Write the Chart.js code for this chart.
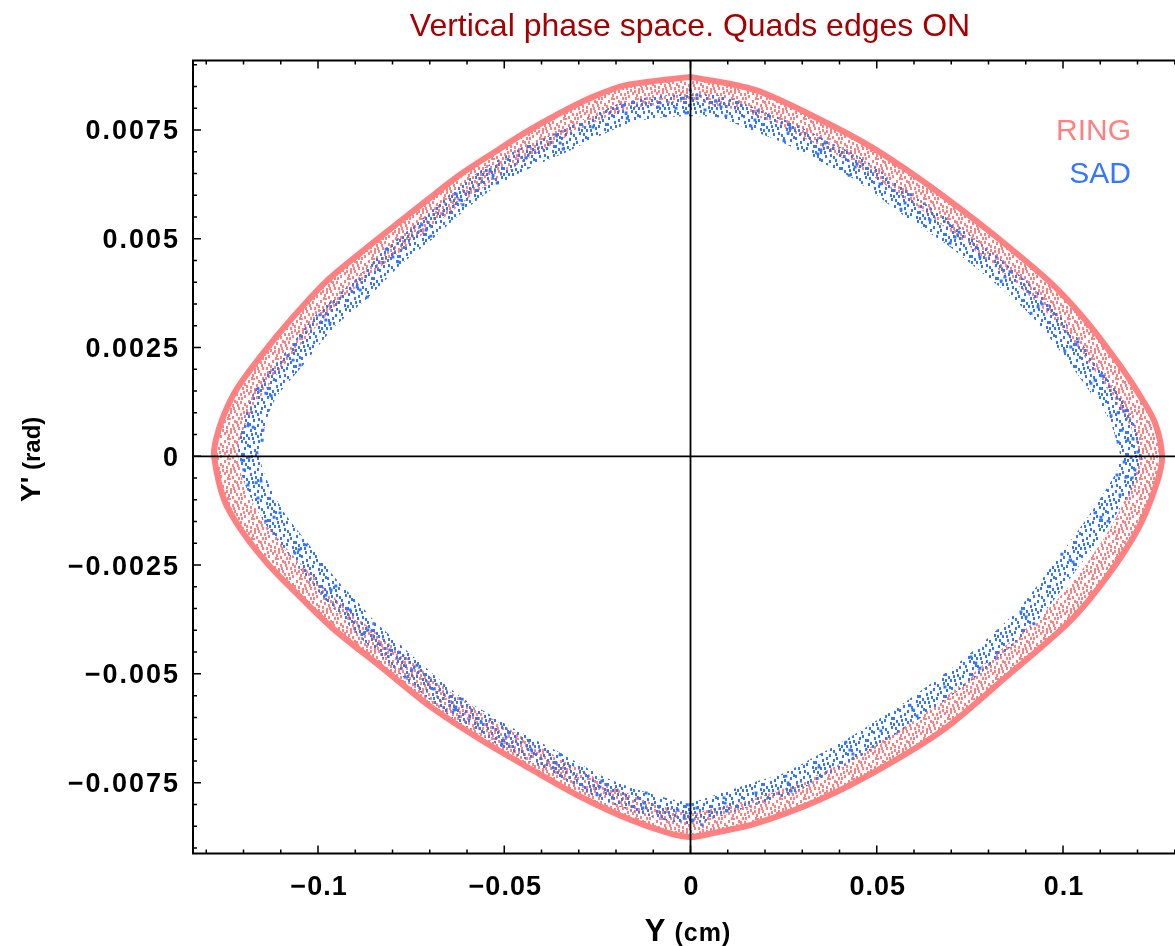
<!DOCTYPE html>
<html><head><meta charset="utf-8">
<script src="https://cdn.jsdelivr.net/npm/chart.js@4.4.1/dist/chart.umd.min.js"></script>
<style>
html,body{margin:0;padding:0;background:#fff;overflow:hidden;width:1175px;height:946px;}
#wrap{position:relative;width:1196px;height:946px;}
canvas{display:block;}
</style></head><body>
<div id="wrap"><canvas id="c" width="1196" height="946"></canvas></div>
<script>
// ---------- DATA ----------
const titleText = "Vertical phase space. Quads edges ON";
const seriesNames = ["RING", "SAD"];

// RING: outer (dense) edge of the distribution
const ringOuterX = [0.0000, 0.0173, 0.0350, 0.0485, 0.0619, 0.0753, 0.0887, 0.0979, 0.1067, 0.1156, 0.1209, 0.1247, 0.1266, 0.1252, 0.1204, 0.1118, 0.1019, 0.0850, 0.0681, 0.0514, 0.0345, 0.0179, 0.0060, 0.0000, -0.0058, -0.0160, -0.0294, -0.0428, -0.0562, -0.0697, -0.0831, -0.0965, -0.1067, -0.1134, -0.1201, -0.1252, -0.1279, -0.1274, -0.1255, -0.1220, -0.1156, -0.1067, -0.0979, -0.0887, -0.0799, -0.0710, -0.0619, -0.0530, -0.0442, -0.0350, -0.0262, -0.0173];
const ringOuterY = [0.00872, 0.00842, 0.00773, 0.00711, 0.00635, 0.00550, 0.00458, 0.00389, 0.00306, 0.00205, 0.00136, 0.00077, 0.00000, -0.00061, -0.00163, -0.00277, -0.00379, -0.00505, -0.00627, -0.00716, -0.00790, -0.00843, -0.00866, -0.00875, -0.00866, -0.00836, -0.00783, -0.00719, -0.00652, -0.00576, -0.00484, -0.00392, -0.00307, -0.00248, -0.00176, -0.00100, 0.00000, 0.00038, 0.00090, 0.00152, 0.00228, 0.00320, 0.00401, 0.00467, 0.00527, 0.00587, 0.00647, 0.00697, 0.00745, 0.00789, 0.00826, 0.00853];

// RING: centre of the sparser inner part of the band
const ringInnerX = [0.0000, 0.0168, 0.0337, 0.0466, 0.0600, 0.0732, 0.0866, 0.0954, 0.1043, 0.1129, 0.1180, 0.1215, 0.1234, 0.1220, 0.1174, 0.1091, 0.0995, 0.0828, 0.0662, 0.0501, 0.0334, 0.0170, 0.0058, 0.0000, -0.0055, -0.0149, -0.0281, -0.0412, -0.0544, -0.0678, -0.0809, -0.0941, -0.1043, -0.1107, -0.1172, -0.1223, -0.1247, -0.1242, -0.1226, -0.1191, -0.1129, -0.1043, -0.0957, -0.0866, -0.0780, -0.0691, -0.0603, -0.0514, -0.0428, -0.0337, -0.0251, -0.0168];
const ringInnerY = [0.00844, 0.00814, 0.00748, 0.00688, 0.00612, 0.00529, 0.00437, 0.00371, 0.00290, 0.00191, 0.00125, 0.00070, 0.00000, -0.00054, -0.00149, -0.00261, -0.00360, -0.00484, -0.00604, -0.00691, -0.00765, -0.00815, -0.00838, -0.00847, -0.00838, -0.00811, -0.00758, -0.00696, -0.00629, -0.00555, -0.00464, -0.00374, -0.00289, -0.00231, -0.00162, -0.00091, 0.00000, 0.00035, 0.00081, 0.00139, 0.00212, 0.00302, 0.00380, 0.00447, 0.00504, 0.00564, 0.00623, 0.00674, 0.00720, 0.00764, 0.00800, 0.00826];

// SAD: centre of the blue band (ordered round the orbit)
const sadCenterX = [-0.0001, 0.0082, 0.0173, 0.0262, 0.0350, 0.0442, 0.0509, 0.0576, 0.0643, 0.0710, 0.0777, 0.0844, 0.0933, 0.1021, 0.1086, 0.1148, 0.1174, 0.1183, 0.1169, 0.1102, 0.1019, 0.0901, 0.0766, 0.0683, 0.0597, 0.0511, 0.0428, 0.0345, 0.0262, 0.0176, 0.0093, -0.0001, -0.0125, -0.0243, -0.0361, -0.0428, -0.0495, -0.0562, -0.0630, -0.0689, -0.0748, -0.0807, -0.0866, -0.0914, -0.0965, -0.1051, -0.1118, -0.1166, -0.1185, -0.1174, -0.1140, -0.1067, -0.0979, -0.0887, -0.0799, -0.0710, -0.0619, -0.0530, -0.0442, -0.0350, -0.0262, -0.0173, -0.0087];
const sadCenterY = [0.00807, 0.00803, 0.00773, 0.00743, 0.00704, 0.00665, 0.00626, 0.00582, 0.00543, 0.00504, 0.00458, 0.00412, 0.00343, 0.00251, 0.00175, 0.00100, 0.00037, -0.00002, -0.00048, -0.00140, -0.00238, -0.00369, -0.00475, -0.00530, -0.00583, -0.00631, -0.00675, -0.00714, -0.00751, -0.00774, -0.00797, -0.00820, -0.00797, -0.00760, -0.00705, -0.00675, -0.00645, -0.00611, -0.00576, -0.00535, -0.00491, -0.00445, -0.00399, -0.00353, -0.00307, -0.00215, -0.00140, -0.00061, -0.00002, 0.00067, 0.00145, 0.00221, 0.00313, 0.00382, 0.00458, 0.00520, 0.00589, 0.00646, 0.00686, 0.00720, 0.00757, 0.00789, 0.00803];

// SAD: further scattered points on either side of the band centre
const sadSpread = [
 [0.0004,0.00823],[-0.0012,0.00789],[0.0068,0.00817],[0.0095,0.00782],[0.0181,0.00794],[0.0162,0.00759],
 [0.0267,0.00755],[0.0251,0.00725],[0.0361,0.00720],[0.0342,0.00695],[0.0447,0.00672],[0.0426,0.00646],
 [0.0592,0.00601],[0.0565,0.00568],[0.0721,0.00515],[0.0697,0.00490],[0.0858,0.00424],[0.0834,0.00403],
 [0.0944,0.00350],[0.0914,0.00329],[0.1040,0.00263],[0.1005,0.00242],[0.1105,0.00185],[0.1075,0.00168],
 [0.1164,0.00104],[0.1129,0.00093],[0.1188,0.00040],[0.1148,0.00033],[0.1201,0.00010],[0.1164,-0.00013],
 [0.1185,-0.00050],[0.1145,-0.00043],[0.1121,-0.00149],[0.1086,-0.00130],[0.1027,-0.00243],[0.0997,-0.00225],
 [0.0922,-0.00385],[0.0887,-0.00358],[0.0777,-0.00487],[0.0753,-0.00461],[0.0608,-0.00597],[0.0589,-0.00572],
 [0.0436,-0.00684],[0.0417,-0.00657],[0.0270,-0.00769],[0.0256,-0.00735],[0.0098,-0.00815],[0.0090,-0.00785],
 [0.0007,-0.00836],[-0.0009,-0.00801],[-0.0128,-0.00808],[-0.0119,-0.00774],[-0.0251,-0.00778],[-0.0238,-0.00746],
 [-0.0369,-0.00716],[-0.0350,-0.00686],[-0.0506,-0.00661],[-0.0487,-0.00636],[-0.0635,-0.00583],[-0.0613,-0.00558],
 [-0.0766,-0.00507],[-0.0734,-0.00480],[-0.0877,-0.00408],[-0.0850,-0.00385],[-0.0979,-0.00319],[-0.0952,-0.00298],
 [-0.1062,-0.00222],[-0.1032,-0.00204],[-0.1140,-0.00149],[-0.1102,-0.00130],[-0.1188,-0.00066],[-0.1153,-0.00057],
 [-0.1204,-0.00009],[-0.1164,0.00008],[-0.1188,0.00070],[-0.1148,0.00060],[-0.1161,0.00155],[-0.1126,0.00139],
 [-0.1081,0.00231],[-0.1048,0.00210],[-0.0995,0.00325],[-0.0968,0.00306],[-0.0895,0.00389],[-0.0868,0.00366],
 [-0.0817,0.00476],[-0.0785,0.00447],[-0.0721,0.00532],[-0.0697,0.00506],[-0.0630,0.00603],[-0.0611,0.00578],
 [-0.0538,0.00656],[-0.0519,0.00628],[-0.0361,0.00738],[-0.0342,0.00706],[-0.0179,0.00807],[-0.0170,0.00777],
 [-0.0020,0.00823],[0.0017,0.00830],[0.0039,0.00796],[-0.0039,0.00800],[-0.0001,0.00842],
 [-0.0001,-0.00801],[-0.0017,-0.00831],[0.0017,-0.00808],[0.0031,-0.00847],[-0.0034,-0.00813],
 [-0.1199,-0.00031],[-0.1161,-0.00096],[-0.1150,0.00037],[0.1158,0.00060],[0.1193,-0.00031],[0.1153,-0.00089]
];

// axes
const xRange = [-0.13356, 0.13302];
const yRange = [-0.009128, 0.009096];
const xTickValues = [-0.1, -0.05, 0, 0.05, 0.1];
const xTickLabels = ["\u22120.1", "\u22120.05", "0", "0.05", "0.1"];
const yTickValues = [-0.0075, -0.005, -0.0025, 0, 0.0025, 0.005, 0.0075];
const yTickLabels = ["\u22120.0075", "\u22120.005", "\u22120.0025", "0", "0.0025", "0.005", "0.0075"];
const xTitle = ["Y", " (cm)"];
const yTitle = ["Y'", " (rad)"];

// ---------- STYLE ----------
const RING_COLOR = "rgb(255,128,128)";
const SAD_COLOR = "rgb(51,119,255)";
const mainCtx = document.getElementById('c').getContext('2d');
function dotPattern(w, h, dots, color) {
  const c = document.createElement('canvas'); c.width = w; c.height = h;
  const g = c.getContext('2d'); g.fillStyle = color;
  dots.forEach(d => g.fillRect(d[0], d[1], 2, 3));
  return mainCtx.createPattern(c, 'repeat');
}
const ringTexture = dotPattern(24, 20, [[0,1],[4,3],[8,0],[12,2],[16,4],[20,1],[2,7],[6,9],[10,6],[14,8],[18,10],[22,7],
  [0,13],[4,15],[8,12],[12,14],[16,16],[20,13],[11,17],[6,5],[14,11],[21,4],[1,17],[18,0],[3,11],[10,10],[17,7],[22,17],[13,18]], RING_COLOR);
const sadTexture = dotPattern(26, 22, [[1,2],[7,0],[13,4],[19,1],[23,6],[4,9],[10,7],[16,11],[21,14],[0,15],[6,18],
  [12,16],[18,19],[24,0],[9,13],[15,5],[3,5],[20,9],[7,13],[14,19],[23,17],[11,1],[17,15],[1,11],[9,19]], SAD_COLOR);

// ---------- build tables ----------
const closed = (xs, ys) => { const d = xs.map((v, i) => ({x: v, y: ys[i]})); d.push({x: xs[0], y: ys[0]}); return d; };
const sadPoints = sadCenterX.map((v, i) => ({x: v, y: sadCenterY[i]})).concat(sadSpread.map(p => ({x: p[0], y: p[1]})));

const deco = {
  id: 'deco',
  afterDatasetsDraw(chart) {
    const {ctx, chartArea: a, scales: {x, y}} = chart;
    ctx.save();
    ctx.strokeStyle = '#000';
    ctx.lineWidth = 1.8;
    const x0 = x.getPixelForValue(0), y0 = y.getPixelForValue(0);
    ctx.beginPath();
    ctx.moveTo(x0, a.top); ctx.lineTo(x0, a.bottom);
    ctx.moveTo(a.left, y0); ctx.lineTo(a.right, y0);
    ctx.stroke();
    ctx.lineWidth = 2;
    ctx.strokeRect(a.left, a.top, a.right - a.left, a.bottom - a.top);
    ctx.lineWidth = 1.5;
    ctx.beginPath();
    for (let i = -13; i <= 13; i++) {
      const px = x.getPixelForValue(i / 100), L = (i % 5 === 0) ? 8 : 4;
      ctx.moveTo(px, a.bottom); ctx.lineTo(px, a.bottom - L);
      ctx.moveTo(px, a.top); ctx.lineTo(px, a.top + L);
    }
    for (let i = -18; i <= 18; i++) {
      const py = y.getPixelForValue(i * 0.0005), L = (i % 5 === 0) ? 8 : 4;
      ctx.moveTo(a.left, py); ctx.lineTo(a.left + L, py);
      ctx.moveTo(a.right, py); ctx.lineTo(a.right - L, py);
    }
    ctx.stroke();
    // tick labels
    ctx.fillStyle = '#000';
    ctx.font = 'bold 27px "Liberation Sans", Arial, sans-serif';
    ctx.textBaseline = 'alphabetic';
    ctx.letterSpacing = '2px';
    ctx.textAlign = 'right';
    yTickValues.forEach((v, i) => ctx.fillText(yTickLabels[i], a.left - 13, y.getPixelForValue(v) + 9.5));
    ctx.letterSpacing = '1px';
    ctx.textAlign = 'center';
    xTickValues.forEach((v, i) => ctx.fillText(xTickLabels[i], x.getPixelForValue(v) + 1, a.bottom + 41));
    // axis titles
    const drawTwo = (parts, f1, f2, cx, base) => {
      ctx.textAlign = 'left';
      ctx.font = f1; const w1 = ctx.measureText(parts[0]).width;
      ctx.font = f2; const w2 = ctx.measureText(parts[1]).width;
      const s = cx - (w1 + w2) / 2;
      ctx.font = f1; ctx.fillText(parts[0], s, base);
      ctx.font = f2; ctx.fillText(parts[1], s + w1, base);
    };
    drawTwo(xTitle, 'bold 31px "Liberation Sans", Arial, sans-serif', 'bold 25px "Liberation Sans", Arial, sans-serif', 688, 941);
    ctx.letterSpacing = '0px';
    ctx.save();
    ctx.translate(40, y0 + 3);
    ctx.rotate(-Math.PI / 2);
    drawTwo(yTitle, 'bold 28px "Liberation Sans", Arial, sans-serif', 'bold 24px "Liberation Sans", Arial, sans-serif', 0, 0);
    ctx.restore();
    // title
    ctx.font = '32px "Liberation Sans", Arial, sans-serif';
    ctx.textAlign = 'center';
    ctx.fillStyle = '#a80000';
    ctx.fillText(titleText, 690, 36);
    // legend text
    ctx.font = '30px "Liberation Sans", Arial, sans-serif';
    ctx.textAlign = 'right';
    ctx.fillStyle = RING_COLOR; ctx.fillText(seriesNames[0], 1131, 140);
    ctx.fillStyle = SAD_COLOR; ctx.fillText(seriesNames[1], 1131, 183);
    ctx.restore();
  }
};

new Chart(document.getElementById('c'), {
  type: 'scatter',
  data: {
    datasets: [
      { label: 'SAD', data: sadPoints, order: 0, showLine: false,
        pointStyle: 'rect', pointRadius: 2.1, pointBackgroundColor: SAD_COLOR, pointBorderWidth: 0 },
      { label: 'SAD band', data: closed(sadCenterX, sadCenterY), order: 1, showLine: true, tension: 0.3,
        borderColor: sadTexture, borderWidth: 22, pointRadius: 0 },
      { label: 'RING', data: closed(ringOuterX, ringOuterY), order: 2, showLine: true, tension: 0.3,
        borderColor: RING_COLOR, borderWidth: 6, pointRadius: 0 },
      { label: 'RING inner', data: closed(ringInnerX, ringInnerY), order: 3, showLine: true, tension: 0.3,
        borderColor: ringTexture, borderWidth: 24, pointRadius: 0 }
    ]
  },
  options: {
    responsive: false, animation: false, devicePixelRatio: 1,
    layout: { padding: { top: 60.5, right: 10, bottom: 0, left: 0 } },
    plugins: { legend: { display: false }, tooltip: { enabled: false }, title: { display: false } },
    scales: {
      x: { type: 'linear', min: xRange[0], max: xRange[1],
           grid: { display: false, drawTicks: false }, border: { display: false }, ticks: { display: false },
           afterFit(s) { s.height = 92.5; } },
      y: { type: 'linear', min: yRange[0], max: yRange[1],
           grid: { display: false, drawTicks: false }, border: { display: false }, ticks: { display: false },
           afterFit(s) { s.width = 193; } }
    }
  },
  plugins: [deco]
});
</script>
</body></html>
